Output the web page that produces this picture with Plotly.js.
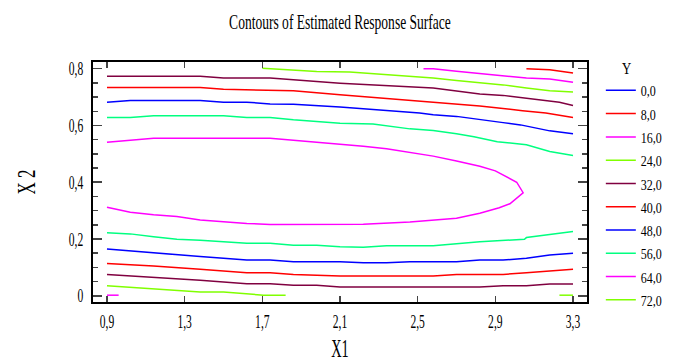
<!DOCTYPE html>
<html>
<head>
<meta charset="utf-8">
<script src="https://cdn.plot.ly/plotly-3.0.1.min.js"></script>
<style>html,body{margin:0;padding:0;background:#fff;}#chart{width:677px;height:363px;}</style>
</head>
<body>
<div id="chart"></div>
<script>
// Contour levels of Y and their legend labels
const levels = ["0,0", "8,0", "16,0", "24,0", "32,0", "40,0", "48,0", "56,0", "64,0", "72,0"];

// Contour polylines (null separates pieces of one level)
const x0 = [], y0 = [];
const x8 = [3.06, 3.18, 3.30];
const y8 = [0.800, 0.796, 0.785];
const x16 = [2.53, 2.58, 2.70, 2.94, 3.06, 3.18, 3.30, null, 0.90, 0.96];
const y16 = [0.800, 0.800, 0.791, 0.776, 0.767, 0.764, 0.752, null, 0.002, 0.002];
const x24 = [1.70, 1.98, 2.15, 2.58, 2.70, 2.94, 3.06, 3.18, 3.30, null,
             0.90, 1.14, 1.38, 1.50, 1.62, 1.706, 1.82, null, 3.23, 3.30];
const y24 = [0.802, 0.790, 0.788, 0.767, 0.758, 0.743, 0.732, 0.722, 0.718, null,
             0.035, 0.024, 0.013, 0.013, 0.008, 0.002, 0.002, null, 0.002, 0.002];
const x32 = [0.90, 1.38, 1.50, 1.74, 1.86, 2.10, 2.58, 2.82, 2.94, 3.04, 3.18, 3.23, 3.30, null,
             0.90, 1.14, 1.38, 1.62, 1.74, 1.86, 1.98, 2.10, 2.82, 2.94, 3.06, 3.18, 3.30];
const y32 = [0.773, 0.773, 0.767, 0.767, 0.761, 0.749, 0.732, 0.711, 0.706, 0.697, 0.685, 0.682, 0.670, null,
             0.075, 0.065, 0.055, 0.042, 0.042, 0.037, 0.037, 0.031, 0.031, 0.035, 0.035, 0.041, 0.041];
const x40 = [0.90, 1.38, 1.50, 1.74, 1.86, 2.10, 2.70, 2.82, 3.04, 3.16, 3.30, null,
             0.90, 1.14, 1.38, 1.62, 1.74, 1.86, 2.10, 2.58, 2.70, 2.94, 3.06, 3.30];
const y40 = [0.734, 0.734, 0.728, 0.723, 0.722, 0.708, 0.676, 0.669, 0.652, 0.644, 0.628, null,
             0.114, 0.105, 0.093, 0.081, 0.081, 0.075, 0.070, 0.070, 0.075, 0.075, 0.081, 0.093];
const x48 = [0.90, 1.02, 1.38, 1.50, 1.62, 1.74, 1.86, 2.10, 2.51, 2.58, 2.70, 2.82, 2.94, 3.03, 3.18, 3.30, null,
             0.90, 1.02, 1.14, 1.38, 1.62, 1.74, 1.86, 2.10, 2.22, 2.34, 2.46, 2.70, 2.82, 2.94, 3.06, 3.18, 3.30];
const y48 = [0.682, 0.688, 0.688, 0.682, 0.682, 0.676, 0.675, 0.665, 0.644, 0.638, 0.632, 0.620, 0.610, 0.602, 0.581, 0.571, null,
             0.165, 0.158, 0.150, 0.138, 0.126, 0.126, 0.120, 0.120, 0.116, 0.116, 0.120, 0.120, 0.126, 0.126, 0.132, 0.144, 0.150];
const x56 = [0.90, 1.02, 1.14, 1.50, 1.62, 1.74, 1.86, 2.10, 2.27, 2.46, 2.58, 2.70, 2.79, 2.91, 3.06, 3.18, 3.30, null,
             0.90, 1.02, 1.14, 1.26, 1.38, 1.50, 1.62, 1.74, 1.86, 1.98, 2.10, 2.22, 2.34, 2.58, 2.82, 3.05, 3.06, 3.30];
const y56 = [0.628, 0.628, 0.634, 0.634, 0.628, 0.628, 0.620, 0.608, 0.605, 0.588, 0.582, 0.571, 0.560, 0.543, 0.532, 0.508, 0.494, null,
             0.222, 0.218, 0.208, 0.199, 0.196, 0.190, 0.185, 0.185, 0.178, 0.178, 0.173, 0.171, 0.176, 0.176, 0.190, 0.199, 0.205, 0.226];
const x64 = [0.90, 1.02, 1.14, 1.74, 1.86, 1.98, 2.10, 2.22, 2.34, 2.46, 2.58, 2.70, 2.82, 2.90, 3.01, 3.043,
             2.975, 2.92, 2.82, 2.70, 2.46, 2.22, 1.74, 1.62, 1.50, 1.38, 1.26, 1.14, 1.02, 0.90];
const y64 = [0.541, 0.548, 0.555, 0.555, 0.548, 0.541, 0.536, 0.527, 0.518, 0.506, 0.492, 0.475, 0.456, 0.440, 0.400, 0.363,
             0.324, 0.310, 0.291, 0.273, 0.260, 0.252, 0.251, 0.255, 0.260, 0.267, 0.279, 0.285, 0.294, 0.312];
const x72 = [], y72 = [];

const xs = [x0, x8, x16, x24, x32, x40, x48, x56, x64, x72];
const ys = [y0, y8, y16, y24, y32, y40, y48, y56, y64, y72];

// styles
const colors = ["#0000ff", "#ff0000", "#ff00ff", "#80ff00", "#800040",
                "#ff0000", "#0000ff", "#00ff80", "#ff00ff", "#80ff00"];
const FONT = "Liberation Serif";

const traces = levels.map((name, i) => ({
  type: "scatter", mode: "lines", name: name,
  x: xs[i].length ? xs[i] : [null], y: ys[i].length ? ys[i] : [null],
  connectgaps: false, legendgroup: "g" + i,
  line: {color: colors[i], width: 1.5},
  hoverinfo: "skip"
}));

const layout = {
  width: 677, height: 363,
  margin: {l: 93, r: 90, t: 62, b: 61, autoexpand: false},
  paper_bgcolor: "#fff", plot_bgcolor: "#fff",
  separators: ",.",
  font: {family: FONT, size: 16, color: "#000"},
  title: {text: "Contours of Estimated Response Surface", font: {family: FONT, size: 21, color: "#000"},
          x: 0.5, xref: "paper", y: 0.94, yref: "container", yanchor: "middle"},
  xaxis: {
    range: [0.828, 3.372], tick0: 0.9, dtick: 0.4, ticks: "inside", ticklen: 6, tickwidth: 1.5,
    showline: true, linewidth: 2, linecolor: "#000", mirror: "ticks", showgrid: false, zeroline: false,
    tickfont: {family: FONT, size: 19}, ticklabelstandoff: 1,
    title: {text: "X1", font: {family: FONT, size: 26}, standoff: 9}
  },
  yaxis: {
    range: [-0.022, 0.8236], tick0: 0, dtick: 0.2, ticks: "inside", ticklen: 9, tickwidth: 1.5,
    minor: {dtick: 0.05, ticks: "inside", ticklen: 5, tickwidth: 1.5, showgrid: false},
    showline: true, linewidth: 2, linecolor: "#000", mirror: "ticks", showgrid: false, zeroline: false,
    tickfont: {family: FONT, size: 19}, ticklabelstandoff: 4,
    title: {text: "X 2", font: {family: FONT, size: 26}, standoff: 16}
  },
  showlegend: true,
  legend: {
    x: 1.028, xanchor: "left", y: 1.038, yanchor: "top", maxheight: 1,
    title: {text: "\u00a0\u00a0\u00a0\u00a0\u00a0\u00a0Y", side: "top", font: {family: FONT, size: 16}},
    font: {family: FONT, size: 15.6}, traceorder: "grouped", tracegroupgap: 0,
    bgcolor: "rgba(0,0,0,0)", borderwidth: 0
  }
};

// narrow, tall lettering as in the original: squeeze text horizontally about its anchor
function squeeze(selector, s) {
  document.querySelectorAll("#chart " + selector).forEach(t => {
    const x = parseFloat(t.getAttribute("x")) || 0;
    const tr = t.getAttribute("transform") || "";
    t.setAttribute("transform", tr + " translate(" + x + ",0) scale(" + s + ",1) translate(" + (-x) + ",0)");
  });
}

Plotly.newPlot("chart", traces, layout, {displayModeBar: false, staticPlot: true}).then(() => {
  squeeze("text.gtitle", 0.645);
  squeeze("g.xtick text", 0.61);
  squeeze("g.ytick text", 0.61);
  squeeze("text.xtitle", 0.55);
  squeeze("text.ytitle", 0.65);
  squeeze("text.legendtext", 0.77);
  squeeze("text.legendtitletext", 0.8);
});
</script>
</body>
</html>
